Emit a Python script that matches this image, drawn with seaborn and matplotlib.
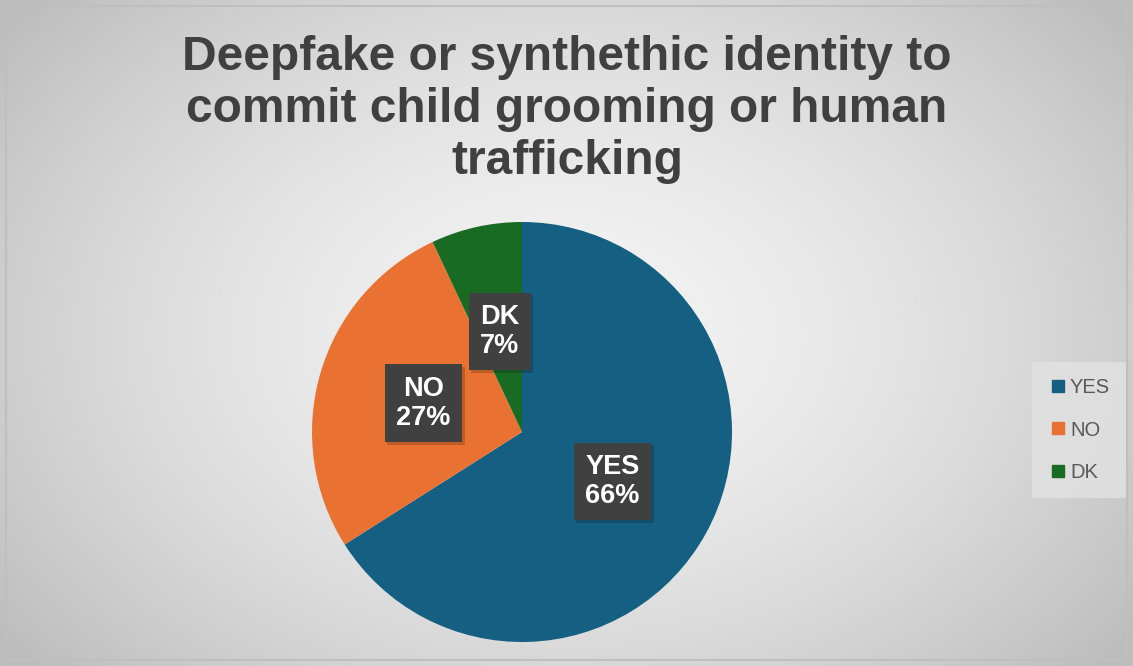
import numpy as np
import matplotlib
matplotlib.use("Agg")
import matplotlib.pyplot as plt
import matplotlib.patheffects as pe
import seaborn as sns
from matplotlib.lines import Line2D
from matplotlib.patches import Rectangle

categories = ["YES", "NO", "DK"]
values = [66, 27, 7]
colors = ["#156082", "#E97132", "#196B24"]
title = "Deepfake or synthethic identity to\ncommit child grooming or human\ntrafficking"

sns.set_theme(style="white")
plt.rcParams['font.family'] = ['Liberation Sans', 'DejaVu Sans']

W, H = 1133, 666
fig = plt.figure(figsize=(W / 100, H / 100), dpi=100)
fig.patch.set_facecolor("white")

# background radial gradient
bg = fig.add_axes([0, 0, 1, 1])
yy, xx = np.mgrid[0:H, 0:W]
cx, cy = W * 0.5, H * 0.5
r = np.sqrt(((xx - cx) / (W * 0.62)) ** 2 + ((yy - cy) / (H * 0.75)) ** 2)
r = np.clip(r, 0, 1)
g = 0.955 - 0.21 * r ** 1.6
img = np.dstack([g, g, g])
bg.imshow(img, extent=[0, W, H, 0], aspect="auto", interpolation="bilinear")
bg.add_patch(Rectangle((6, 6), W - 12, H - 12, fill=False, ec="#bfbfbf", lw=1.5))
bg.set_xlim(0, W)
bg.set_ylim(H, 0)
bg.axis("off")

# title
fig.text(567 / W, 1 - 110 / H, title, ha="center", va="center", fontsize=34.5,
         fontweight="bold", color="#404040", linespacing=1.2)

# pie
R = 210
pcx, pcy = 522, 432
ax = fig.add_axes([(pcx - R) / W, (H - pcy - R) / H, 2 * R / W, 2 * R / H])
ax.set_facecolor("none")
wedges, texts, autotexts = ax.pie(values, colors=colors, startangle=90, counterclock=False,
                                  autopct="%1.0f%%", pctdistance=0.49, radius=1,
                                  wedgeprops=dict(linewidth=0))
for cat, t, v in zip(categories, autotexts, values):
    t.set_text(f"{cat}\n{v}%")
    t.set_color("white")
    t.set_fontsize(19.5)
    t.set_fontweight("bold")
    t.set_linespacing(1.15)
    t.set_bbox(dict(boxstyle="square,pad=0.42", fc="#404040", ec="none"))
    t.get_bbox_patch().set_path_effects([
        pe.SimplePatchShadow(offset=(2, -2), shadow_rgbFace="black", alpha=0.18),
        pe.Normal()])
ax.set_xlim(-1, 1)
ax.set_ylim(-1, 1)
ax.set_aspect("equal")
ax.axis("off")

# legend
handles = [Line2D([0], [0], marker="s", linestyle="none", markersize=9,
                  markerfacecolor=c, markeredgecolor=c) for c in colors]
leg = fig.legend(handles, categories, loc="center", bbox_to_anchor=(1079 / W, 1 - 430 / H),
                 frameon=True, fontsize=14.5, labelspacing=1.15, handletextpad=0.1,
                 handlelength=1.0, borderpad=0.8, fancybox=False)
leg.get_frame().set_facecolor("#e2e2e2")
leg.get_frame().set_edgecolor("none")
leg.get_frame().set_alpha(0.8)
for t in leg.get_texts():
    t.set_color("#595959")

fig.savefig("out.png", dpi=100)
